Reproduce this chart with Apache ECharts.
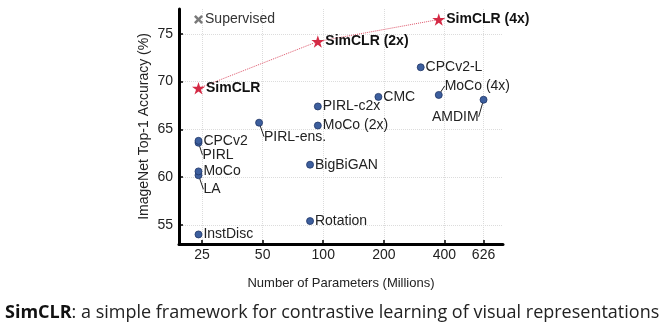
<!DOCTYPE html>
<html><head><meta charset="utf-8">
<script src="https://cdn.jsdelivr.net/npm/echarts@6/dist/echarts.min.js"></script>
<style>html,body{margin:0;padding:0;background:#fff}#c{width:672px;height:329px}</style>
</head><body><div id="c"></div>
<script>
// ---- data ----
const methods = ['InstDisc','Rotation','BigBiGAN','LA','MoCo','PIRL','CPCv2','PIRL-ens.','MoCo (2x)','PIRL-c2x','CMC','MoCo (4x)','AMDIM','CPCv2-L'];
const methodParams = [24,86,86,24,24,24,24,48,94,94,188,375,626,305];
const methodAcc = [54.0,55.4,61.3,60.2,60.6,63.6,63.8,65.7,65.4,67.4,68.4,68.6,68.1,71.5];
const simclrNames = ['SimCLR','SimCLR (2x)','SimCLR (4x)'];
const simclrParams = [24,94,375];
const simclrAcc = [69.3,74.2,76.5];
const supervisedNames = ['Supervised'];
const supervisedParams = [24];
const supervisedAcc = [76.5];
const xTicks = [25,50,100,200,400,626];
const yTicks = [55,60,65,70,75];
const xTitle = 'Number of Parameters (Millions)';
const yTitle = 'ImageNet Top-1 Accuracy (%)';

// ---- styles ----
const leaderOffsets = {'PIRL':[-1,12],'LA':[0,14],'PIRL-ens.':[0,14],'MoCo (4x)':[1,-9],'AMDIM':[0,17]};
const leftLabels = {'AMDIM':true};
const FONT = '"Liberation Sans", Arial, Helvetica, sans-serif';
const STAR = 'path://M50,0 L61.23,34.55 L97.55,34.55 L68.16,55.9 L79.39,90.45 L50,69.1 L20.61,90.45 L31.84,55.9 L2.45,34.55 L38.77,34.55 Z';
const CROSS = 'path://M2,0 L5,3 L8,0 L10,2 L7,5 L10,8 L8,10 L5,7 L2,10 L0,8 L3,5 L0,2 Z';
const RED = '#d42a45';

const methodData = methods.map((n,i)=>{
  const d = {name:n, value:[methodParams[i], methodAcc[i]]};
  if (leaderOffsets[n]) d.labelLine = {show:true, lineStyle:{color:'#222', width:1}};
  if (leftLabels[n]) d.label = {position:'left'};
  return d;
});
const simData = simclrNames.map((n,i)=>({name:n, value:[simclrParams[i], simclrAcc[i]]}));
const supData = supervisedNames.map((n,i)=>({name:n, value:[supervisedParams[i], supervisedAcc[i]]}));

const chart = echarts.init(document.getElementById('c'), null, {renderer:'canvas'});
chart.setOption({
  animation:false,
  backgroundColor:'#fff',
  grid:{left:179, right:169, top:9, bottom:85, outerBoundsMode:'none', containLabel:false},
  xAxis:{
    type:'log', min:19.2, max:782,
    name:xTitle, nameLocation:'middle', nameGap:33,
    nameTextStyle:{fontFamily:FONT, fontSize:13, color:'#222'},
    axisLine:{show:true, onZero:false, lineStyle:{color:'#000', width:3}},
    axisTick:{show:true, inside:true, length:4, lineStyle:{color:'#000', width:1.5}, customValues:xTicks},
    axisLabel:{show:true, margin:4, fontFamily:FONT, fontSize:14, color:'#222', customValues:xTicks, formatter:v=>String(Math.round(v))},
    splitLine:{show:true, lineStyle:{color:'#dcdcdc', type:'dotted', width:1}},
    minorTick:{show:false}, minorSplitLine:{show:false}
  },
  yAxis:{
    type:'value', min:53, max:77.6,
    name:yTitle, nameLocation:'middle', nameGap:28, nameRotate:90,
    nameTextStyle:{fontFamily:FONT, fontSize:14, color:'#222'},
    axisLine:{show:true, onZero:false, lineStyle:{color:'#000', width:3}},
    axisTick:{show:true, inside:true, length:4, lineStyle:{color:'#000', width:1.5}, customValues:yTicks},
    axisLabel:{show:true, margin:6, fontFamily:FONT, fontSize:14, color:'#222', customValues:yTicks},
    splitLine:{show:true, lineStyle:{color:'#dcdcdc', type:'dotted', width:1}}
  },
  series:[
    {
      type:'line', data:simData.map(d=>d.value), symbol:'none', silent:true, z:2,
      lineStyle:{color:RED, width:1, type:'dotted', opacity:0.8}
    },
    {
      type:'scatter', data:methodData, symbol:'circle', symbolSize:7, z:3,
      itemStyle:{color:'#3d5f9e', borderColor:'#1f3566', borderWidth:0.8, opacity:1},
      label:{show:true, position:'right', distance:1, formatter:'{b}', fontFamily:FONT, fontSize:14, color:'#222'},
      labelLayout:function(p){
        const n = methods[p.dataIndex];
        const o = leaderOffsets[n];
        return o ? {dx:o[0], dy:o[1]} : {};
      }
    },
    {
      type:'scatter', data:simData, symbol:STAR, symbolSize:[13,12.4], z:4,
      itemStyle:{color:RED, opacity:1},
      label:{show:true, position:'right', distance:1, formatter:'{b}', fontFamily:FONT, fontSize:14, fontWeight:'bold', color:'#111'}
    },
    {
      type:'scatter', data:supData, symbol:CROSS, symbolSize:9, z:4,
      itemStyle:{color:'#7a7a7a', opacity:1},
      label:{show:true, position:'right', distance:2, formatter:'{b}', fontFamily:FONT, fontSize:14, color:'#333'}
    }
  ],
  graphic:[{
    type:'text', left:5, top:304,
    style:{
      text:'{b|SimCLR}{r|: a simple framework for contrastive learning of visual representations}',
      rich:{
        b:{fontFamily:'"Open Sans", "Noto Sans", sans-serif', fontSize:18, fontWeight:'bold', fill:'#111'},
        r:{fontFamily:'"Open Sans", "Noto Sans", sans-serif', fontSize:18, fill:'#222'}
      }
    }
  }]
});
</script></body></html>
